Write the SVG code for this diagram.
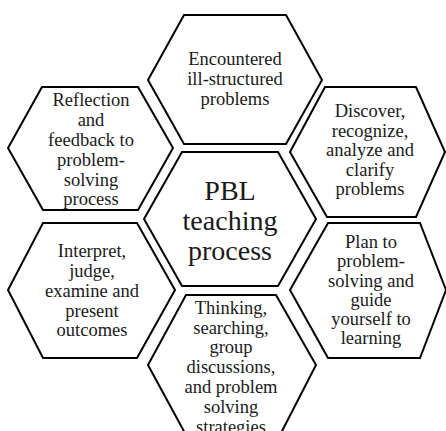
<svg xmlns="http://www.w3.org/2000/svg" width="446" height="431" viewBox="0 0 446 431">
  <style>
    .hex { fill: #ffffff; stroke: #000000; stroke-width: 2; stroke-linejoin: miter; }
    text { font-family: 'Liberation Serif', 'DejaVu Serif', 'Noto Serif', serif; fill: #1a1a1a; text-anchor: middle; }
    .t { font-size: 18.5px; }
    .big { font-size: 28px; }
  </style>
  <rect width="446" height="431" fill="#ffffff"/>
  <g id="connectors"/>
  <g id="node-top">
    <polygon class="hex" points="184,15 286,15 322,80 286,144 184,144 148,80"/>
    <text class="t" x="235" y="65" font-family="Liberation Serif, serif">Encountered</text>
    <text class="t" x="235" y="85" font-family="Liberation Serif, serif">ill-structured</text>
    <text class="t" x="235" y="105" font-family="Liberation Serif, serif">problems</text>
  </g>
  <g id="node-reflection" font-family="Liberation Serif, serif">
    <polygon class="hex" points="42,87 138,87 173,148 138,210 43,210 8,148"/>
    <text class="t" x="91" y="106">Reflection</text>
    <text class="t" x="91" y="126">and</text>
    <text class="t" x="91" y="146">feedback to</text>
    <text class="t" x="91" y="166">problem-</text>
    <text class="t" x="91" y="186">solving</text>
    <text class="t" x="91" y="205">process</text>
  </g>
  <g id="node-discover">
    <polygon class="hex" points="325,87 416,87 445,152 416,217 327,217 290,152"/>
    <text class="t" x="370" y="117">Discover,</text>
    <text class="t" x="370" y="136.5">recognize,</text>
    <text class="t" x="370" y="156">analyze and</text>
    <text class="t" x="370" y="175.5">clarify</text>
    <text class="t" x="370" y="195">problems</text>
  </g>
  <g id="node-center">
    <polygon class="hex" points="182,152 278,152 316,219 278,286 182,286 144,219"/>
    <text class="big" x="230" y="200">PBL</text>
    <text class="big" x="230" y="230">teaching</text>
    <text class="big" x="230" y="260">process</text>
  </g>
  <g id="node-interpret">
    <polygon class="hex" points="43,223 137,223 175,290 137,358 43,358 8,290"/>
    <text class="t" x="92" y="257">Interpret,</text>
    <text class="t" x="92" y="277">judge,</text>
    <text class="t" x="92" y="297">examine and</text>
    <text class="t" x="92" y="316.5">present</text>
    <text class="t" x="92" y="336">outcomes</text>
  </g>
  <g id="node-plan">
    <polygon class="hex" points="328,223 420,223 446,290 420,358 328,358 290,290"/>
    <text class="t" x="371" y="248">Plan to</text>
    <text class="t" x="371" y="267">problem-</text>
    <text class="t" x="371" y="286.5">solving and</text>
    <text class="t" x="371" y="305.5">guide</text>
    <text class="t" x="371" y="325">yourself to</text>
    <text class="t" x="371" y="344">learning</text>
  </g>
  <g id="node-bottom">
    <polygon class="hex" points="186,295 276,295 316,365 280,435 186,435 148,365"/>
    <text class="t" x="231" y="314">Thinking,</text>
    <text class="t" x="231" y="333.5">searching,</text>
    <text class="t" x="231" y="353">group</text>
    <text class="t" x="231" y="373">discussions,</text>
    <text class="t" x="231" y="393">and problem</text>
    <text class="t" x="231" y="413">solving</text>
    <text class="t" x="231" y="433">strategies</text>
  </g>
</svg>
